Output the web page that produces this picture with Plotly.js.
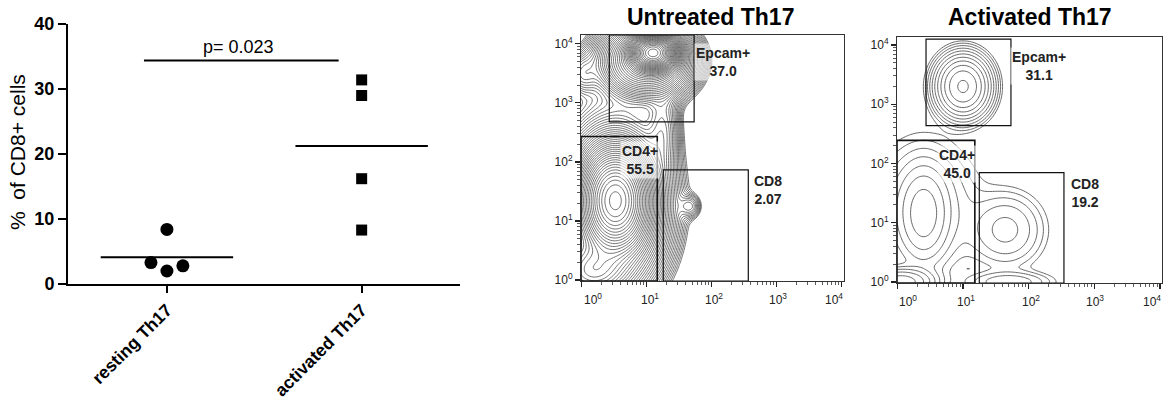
<!DOCTYPE html>
<html>
<head>
<meta charset="utf-8">
<script src="https://cdn.plot.ly/plotly-3.0.1.min.js"></script>
<style>html,body{margin:0;padding:0;background:#fff;}#chart{width:1164px;height:414px;}</style>
</head>
<body>
<div id="chart"></div>
<script>
// ---------- Left panel data ----------
const categories = ['resting Th17', 'activated Th17'];
const restingValues = [8.4, 3.3, 2.0, 2.8];
const restingJitter = [0, -0.082, 0, 0.082];
const activatedValues = [31.4, 29.0, 16.2, 8.3];
const activatedJitter = [0, 0, 0, 0];
const pValueText = 'p= 0.023';
const pBarY = 34.4;
const yTitle = '%  of CD8+ cells';

// ---------- Flow panels data (log10 units) ----------
const flowTitles = ['Untreated Th17', 'Activated Th17'];
const decadeTicks = [0, 1, 2, 3, 4];
const decadeLabels = ['10<sup>0</sup>', '10<sup>1</sup>', '10<sup>2</sup>', '10<sup>3</sup>', '10<sup>4</sup>'];
const decadeLabelShift = [11, 3, 2, 1, -8];
// population clusters: [centerX, centerY, spreadX, spreadY, weight]
const untreatedClusters = [
  [1.10, 3.85, 0.16, 0.14, 1.0],
  [1.00, 3.72, 0.34, 0.30, 0.10],
  [0.52, 1.35, 0.24, 0.40, 0.45],
  [0.50, 1.20, 0.40, 0.68, 0.07],
  [1.25, 2.55, 0.14, 0.45, 0.008],
  [1.67, 1.25, 0.10, 0.12, 0.004],
  [0.02, 3.50, 0.14, 0.20, 0.006],
  [0.15, 0.15, 0.30, 0.25, 0.06],
  [0.60, 2.20, 0.60, 1.30, 0.002]
];
const activatedClusters = [
  [1.00, 3.30, 0.18, 0.23, 1.0],
  [0.40, 1.15, 0.20, 0.42, 0.12],
  [0.40, 1.25, 0.45, 0.60, 0.03],
  [0.05, 0.00, 0.25, 0.12, 0.25],
  [1.65, 0.88, 0.30, 0.33, 0.04],
  [1.70, 0.00, 0.35, 0.10, 0.03]
];
// gates: [x0, x1, y0, y1] in log10 units
const untreatedGates = [[0.425, 1.73, 2.68, 4.15], [-0.01, 1.163, -0.017, 2.43], [1.255, 2.563, -0.017, 1.864]];
const activatedGates = [[0.437, 1.73, 2.64, 4.10], [-0.005, 1.18, -0.017, 2.39], [1.248, 2.537, -0.017, 1.845]];
const gateNames = ['Epcam+', 'CD4+', 'CD8'];
const untreatedPct = ['37.0', '55.5', '2.07'];
const activatedPct = ['31.1', '45.0', '19.2'];
const untreatedLabelPos = [[2.17, 3.69], [0.905, 2.03], [2.87, 1.53]];
const activatedLabelPos = [[2.16, 3.64], [0.91, 1.99], [2.86, 1.51]];

// ---------- helpers ----------
const minorTicks = [];
for (let d = -1; d < 4; d++) for (let k = 2; k <= 9; k++) minorTicks.push(d + Math.log10(k));

const gridVals = [];
for (let i = 0; i <= 176; i++) gridVals.push(-0.1 + i * 0.025);

function densityZ(clusters) {
  const z = [];
  for (const y of gridVals) {
    const row = [];
    for (const x of gridVals) {
      let s = 1e-9;
      for (const c of clusters) {
        const dx = (x - c[0]) / c[2], dy = (y - c[1]) / c[3];
        s += c[4] * Math.exp(-0.5 * (dx * dx + dy * dy));
      }
      row.push(Math.log(s));
    }
    z.push(row);
  }
  return z;
}

const F = 'Liberation Sans, Arial, sans-serif';
const traces = [];

// Left scatter
traces.push({
  type: 'scatter', mode: 'markers', xaxis: 'x', yaxis: 'y',
  x: restingValues.map((v, i) => 0 + restingJitter[i]), y: restingValues,
  marker: {symbol: 'circle', size: 13, color: '#000'}, hoverinfo: 'skip'
});
traces.push({
  type: 'scatter', mode: 'markers', xaxis: 'x', yaxis: 'y',
  x: activatedValues.map((v, i) => 1 + activatedJitter[i]), y: activatedValues,
  marker: {symbol: 'square', size: 11, color: '#000'}, hoverinfo: 'skip'
});
const mean = a => a.reduce((s, v) => s + v, 0) / a.length;
[restingValues, activatedValues].forEach((vals, ci) => {
  const m = mean(vals);
  traces.push({type: 'scatter', mode: 'lines', xaxis: 'x', yaxis: 'y',
    x: [ci - 0.34, ci + 0.34], y: [m, m], line: {color: '#000', width: 2}, hoverinfo: 'skip'});
});
traces.push({type: 'scatter', mode: 'lines', xaxis: 'x', yaxis: 'y',
  x: [-0.118, 0.882], y: [pBarY, pBarY], line: {color: '#000', width: 2}, hoverinfo: 'skip'});

// Contour panels
function contourTrace(clusters, xa, ya, start, size, color, width) {
  return {
    type: 'contour', xaxis: xa, yaxis: ya, x: gridVals, y: gridVals, z: densityZ(clusters),
    contours: {coloring: 'lines', start: start, end: 0.2, size: size},
    colorscale: [[0, color], [1, color]], showscale: false,
    line: {width: width, smoothing: 1}, hoverinfo: 'skip'
  };
}
traces.push(contourTrace(untreatedClusters, 'x2', 'y2', -6.6, 0.14, '#383838', 0.7));
traces.push(contourTrace(activatedClusters, 'x3', 'y3', -5.6, 0.55, '#555', 0.9));

const shapes = [];
const annotations = [];
function addPanel(gates, pct, pos, xa, ya, yBottom) {
  gates.forEach((g, i) => {
    shapes.push({type: 'rect', xref: xa, yref: ya, x0: g[0], x1: g[1], y0: g[2], y1: g[3],
      line: {color: '#111', width: i === 1 ? 1.6 : 1.2}, fillcolor: 'rgba(0,0,0,0)', layer: 'above'});
    annotations.push({xref: xa, yref: ya, x: pos[i][0], y: pos[i][1], showarrow: false,
      text: gateNames[i] + '<br>' + pct[i], align: 'center',
      font: {family: F, size: 14, weight: 'bold', color: '#222'},
      bgcolor: 'rgba(255,255,255,0.6)', borderpad: 1});
  });
  decadeTicks.forEach((d, i) => {
    annotations.push({xref: xa, yref: ya, x: d, y: yBottom, xshift: decadeLabelShift[i], yshift: -8,
      xanchor: 'center', yanchor: 'top', showarrow: false, text: decadeLabels[i],
      font: {family: F, size: 12, color: '#222'}});
  });
}
addPanel(untreatedGates, untreatedPct, untreatedLabelPos, 'x2', 'y2', -0.017);
addPanel(activatedGates, activatedPct, activatedLabelPos, 'x3', 'y3', -0.017);

annotations.push({xref: 'paper', yref: 'paper', x: 710 / 1164, y: 1 - 17 / 414, xanchor: 'center', yanchor: 'middle', showarrow: false,
  text: flowTitles[0], font: {family: F, size: 23, weight: 'bold', color: '#000'}});
annotations.push({xref: 'paper', yref: 'paper', x: 1030 / 1164, y: 1 - 17 / 414, xanchor: 'center', yanchor: 'middle', showarrow: false,
  text: flowTitles[1], font: {family: F, size: 23, weight: 'bold', color: '#000'}});
annotations.push({xref: 'x', yref: 'y', x: 0.37, y: 36.4, xanchor: 'center', yanchor: 'middle', showarrow: false,
  text: pValueText, font: {family: F, size: 18, color: '#000'}});
annotations.push({xref: 'paper', yref: 'paper', x: 17 / 1164, y: 1 - 152 / 414, xanchor: 'center', yanchor: 'middle', showarrow: false,
  text: yTitle, textangle: -90, font: {family: F, size: 21, color: '#000'}});

function flowAxis(domain, range, anchor, isX) {
  return {
    domain: domain, range: range, anchor: anchor, showgrid: false, zeroline: false,
    showline: true, mirror: true, linecolor: '#333', linewidth: 1,
    tickmode: 'array', tickvals: decadeTicks, ticktext: decadeLabels, showticklabels: !isX,
    ticks: 'outside', ticklen: 5, tickwidth: 1.2, tickcolor: '#222',
    minor: {tickmode: 'array', tickvals: minorTicks, ticks: 'outside', ticklen: 3, tickwidth: 0.8, tickcolor: '#333', showgrid: false},
    tickfont: {family: F, size: 12, color: '#222'}, fixedrange: true
  };
}

const layout = {
  width: 1164, height: 414, margin: {l: 0, r: 0, t: 0, b: 0},
  paper_bgcolor: '#fff', plot_bgcolor: '#fff', showlegend: false,
  xaxis: {
    domain: [68 / 1164, 460 / 1164], range: [-0.508, 1.505], anchor: 'y',
    tickmode: 'array', tickvals: [0, 1], ticktext: categories, tickangle: -45,
    ticks: 'outside', ticklen: 7, tickwidth: 2, tickcolor: '#000',
    showline: true, linewidth: 2, linecolor: '#000', showgrid: false, zeroline: false,
    tickfont: {family: F, size: 17.5, weight: 'bold', color: '#000'}
  },
  yaxis: {
    domain: [(414 - 284) / 414, (414 - 24) / 414], range: [0, 40], anchor: 'x',
    tickmode: 'array', tickvals: [0, 10, 20, 30, 40],
    ticks: 'outside', ticklen: 8, tickwidth: 2, tickcolor: '#000',
    showline: true, linewidth: 2, linecolor: '#000', showgrid: false, zeroline: false,
    tickfont: {family: F, size: 18, weight: 'bold', color: '#000'}
  },
  xaxis2: flowAxis([581 / 1164, 844 / 1164], [-0.01, 4.035], 'y2', true),
  yaxis2: flowAxis([(414 - 281) / 414, (414 - 35) / 414], [-0.017, 4.15], 'x2', false),
  xaxis3: flowAxis([897 / 1164, 1162 / 1164], [-0.005, 4.03], 'y3', true),
  yaxis3: flowAxis([(414 - 283) / 414, (414 - 37) / 414], [-0.017, 4.135], 'x3', false),
  shapes: shapes, annotations: annotations
};

Plotly.newPlot('chart', traces, layout, {staticPlot: true, displayModeBar: false});
</script>
</body>
</html>
